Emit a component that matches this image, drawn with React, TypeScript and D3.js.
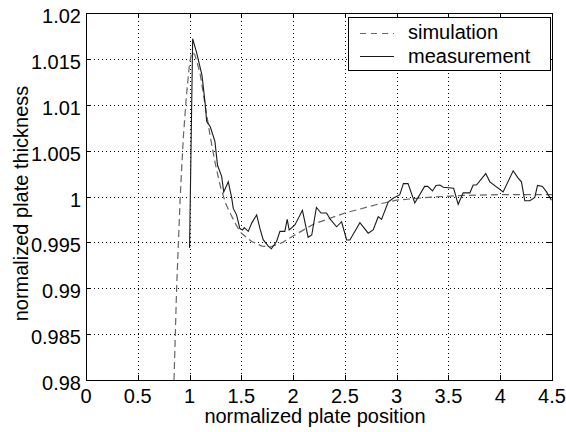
import { useEffect, useRef } from "react";
import * as d3 from "d3";

// axis ticks
const xTicks = [0, 0.5, 1, 1.5, 2, 2.5, 3, 3.5, 4, 4.5];
const xTickLabels = ["0", "0.5", "1", "1.5", "2", "2.5", "3", "3.5", "4", "4.5"];
const yTicks = [0.98, 0.985, 0.99, 0.995, 1, 1.005, 1.01, 1.015, 1.02];
const yTickLabels = ["0.98", "0.985", "0.99", "0.995", "1", "1.005", "1.01", "1.015", "1.02"];

// simulated thickness profile [position, thickness]
const simulation: [number, number][] = [
  [0.85, 0.98], [0.875, 0.99], [0.91, 1.0], [0.94, 1.0065], [0.97, 1.011],
  [1.0, 1.0145], [1.02, 1.0157], [1.05, 1.0155], [1.1, 1.0135], [1.15, 1.01],
  [1.2, 1.0065], [1.25, 1.0035], [1.3, 1.001], [1.35, 0.9992], [1.4, 0.998],
  [1.45, 0.9969], [1.5, 0.996], [1.6, 0.9951], [1.7, 0.9946], [1.78, 0.9945],
  [1.9, 0.995], [2.0, 0.9957], [2.2, 0.997], [2.5, 0.9982], [2.8, 0.9991],
  [3.0, 0.9996], [3.3, 0.9999], [3.6, 1.0001], [4.0, 1.0002], [4.5, 1.0002],
];

// measured thickness profile [position, thickness]
const measurement: [number, number][] = [
  [1.0, 0.9944], [1.03, 1.0172], [1.07, 1.0156], [1.12, 1.0132], [1.15, 1.0102],
  [1.165, 1.0082], [1.2, 1.0076], [1.245, 1.006], [1.27, 1.0034], [1.31, 1.0022],
  [1.33, 1.0005], [1.374, 1.0016], [1.406, 0.9999], [1.422, 0.9987], [1.454, 0.998],
  [1.486, 0.9965], [1.512, 0.99635], [1.528, 0.9966], [1.567, 0.9962], [1.6, 0.9971],
  [1.648, 0.998], [1.68, 0.9965], [1.711, 0.9953], [1.76, 0.9946], [1.79, 0.9943],
  [1.84, 0.9951], [1.873, 0.9962], [1.92, 0.9962], [1.943, 0.9975], [1.962, 0.99635],
  [2.017, 0.9969], [2.09, 0.9985], [2.145, 0.99555], [2.18, 0.9958], [2.225, 0.9988],
  [2.27, 0.9982], [2.323, 0.9982], [2.36, 0.9975], [2.42, 0.9967], [2.468, 0.99725],
  [2.517, 0.99526], [2.548, 0.99526], [2.645, 0.99714], [2.725, 0.996], [2.773, 0.99635],
  [2.822, 0.9978], [2.854, 0.9975], [2.918, 0.9994], [2.966, 0.9998], [3.03, 1.0002],
  [3.065, 1.0014], [3.11, 1.0014], [3.175, 0.9993], [3.27, 1.0011], [3.3, 1.0011],
  [3.346, 1.0006], [3.38, 1.0012], [3.417, 1.00125], [3.45, 1.001], [3.55, 1.0009],
  [3.594, 0.99915], [3.642, 1.0004], [3.707, 1.0004], [3.739, 1.00125], [3.771, 1.00125],
  [3.86, 1.0025], [3.9, 1.0016], [4.028, 1.0005], [4.125, 1.0028], [4.173, 1.002],
  [4.205, 1.0016], [4.237, 0.99954], [4.286, 0.99954], [4.334, 0.9999], [4.36, 1.0012],
  [4.408, 1.0011], [4.447, 1.0005], [4.495, 0.9996],
];

const W = 566;
const H = 432;
const margin = { top: 13, right: 14, bottom: 52, left: 86 };
const font = "'Liberation Sans', Arial, Helvetica, sans-serif";

const App = () => {
  const svgRef = useRef<SVGSVGElement>(null);

  useEffect(() => {
    const svg = d3.select(svgRef.current);
    svg.selectAll("*").remove();

    const x0 = margin.left;
    const x1 = W - margin.right;
    const y0 = H - margin.bottom;
    const y1 = margin.top;

    const xScale = d3.scaleLinear().domain([0, 4.5]).range([x0, x1]);
    const yScale = d3.scaleLinear().domain([0.98, 1.02]).range([y0, y1]);

    svg.append("rect").attr("width", W).attr("height", H).attr("fill", "#fff");

    // grid
    const grid = svg.append("g").attr("stroke", "#000").attr("stroke-width", 1)
      .attr("stroke-dasharray", "1,3");
    xTicks.slice(1, -1).forEach((t) => {
      grid.append("line").attr("x1", Math.round(xScale(t)) + 0.5).attr("x2", Math.round(xScale(t)) + 0.5)
        .attr("y1", y1).attr("y2", y0);
    });
    yTicks.slice(1, -1).forEach((t) => {
      grid.append("line").attr("y1", Math.round(yScale(t)) + 0.5).attr("y2", Math.round(yScale(t)) + 0.5)
        .attr("x1", x0).attr("x2", x1);
    });

    // clip
    svg.append("clipPath").attr("id", "plotClip").append("rect")
      .attr("x", x0).attr("y", y1).attr("width", x1 - x0).attr("height", y0 - y1);

    const line = d3.line<[number, number]>()
      .x((d) => xScale(d[0]))
      .y((d) => yScale(d[1]));

    svg.append("path").datum(simulation).attr("clip-path", "url(#plotClip)")
      .attr("d", line).attr("fill", "none").attr("stroke", "#666")
      .attr("stroke-width", 1.2).attr("stroke-dasharray", "7,4");

    svg.append("path").datum(measurement).attr("clip-path", "url(#plotClip)")
      .attr("d", line).attr("fill", "none").attr("stroke", "#1a1a1a")
      .attr("stroke-width", 1.1);

    // axes box
    svg.append("rect").attr("x", x0 + 0.5).attr("y", y1 + 0.5)
      .attr("width", x1 - x0).attr("height", y0 - y1)
      .attr("fill", "none").attr("stroke", "#000").attr("stroke-width", 1);

    // inner ticks on all four sides
    const ticks = svg.append("g").attr("stroke", "#000").attr("stroke-width", 1);
    xTicks.forEach((t) => {
      const px = Math.round(xScale(t)) + 0.5;
      ticks.append("line").attr("x1", px).attr("x2", px).attr("y1", y0).attr("y2", y0 - 5);
      ticks.append("line").attr("x1", px).attr("x2", px).attr("y1", y1).attr("y2", y1 + 5);
    });
    yTicks.forEach((t) => {
      const py = Math.round(yScale(t)) + 0.5;
      ticks.append("line").attr("y1", py).attr("y2", py).attr("x1", x0).attr("x2", x0 + 5);
      ticks.append("line").attr("y1", py).attr("y2", py).attr("x1", x1).attr("x2", x1 - 5);
    });

    // tick labels
    xTicks.forEach((t, i) => {
      svg.append("text").attr("x", xScale(t)).attr("y", y0 + 23)
        .attr("text-anchor", "middle").attr("font-family", font).attr("font-size", 20)
        .text(xTickLabels[i]);
    });
    yTicks.forEach((t, i) => {
      svg.append("text").attr("x", x0 - 5).attr("y", yScale(t) + 10)
        .attr("text-anchor", "end").attr("font-family", font).attr("font-size", 20)
        .text(yTickLabels[i]);
    });

    // axis titles
    svg.append("text").attr("x", 315).attr("y", 423)
      .attr("text-anchor", "middle").attr("font-family", font).attr("font-size", 20)
      .text("normalized plate position");
    svg.append("text").attr("transform", `translate(28, ${(y0 + y1) / 2 + 7}) rotate(-90)`)
      .attr("text-anchor", "middle").attr("font-family", font).attr("font-size", 20)
      .text("normalized plate thickness");

    // legend
    const lg = svg.append("g");
    lg.append("rect").attr("x", 348.5).attr("y", 17.5).attr("width", 202).attr("height", 53)
      .attr("fill", "#fff").attr("stroke", "#000").attr("stroke-width", 1);
    lg.append("line").attr("x1", 360).attr("x2", 394).attr("y1", 33.5).attr("y2", 33.5)
      .attr("stroke", "#666").attr("stroke-width", 1.2).attr("stroke-dasharray", "6,5");
    lg.append("line").attr("x1", 360).attr("x2", 394).attr("y1", 56.5).attr("y2", 56.5)
      .attr("stroke", "#1a1a1a").attr("stroke-width", 1.1);
    lg.append("text").attr("x", 408).attr("y", 39).attr("font-family", font).attr("font-size", 20)
      .text("simulation");
    lg.append("text").attr("x", 408).attr("y", 63).attr("font-family", font).attr("font-size", 20)
      .text("measurement");
  }, []);

  return (
    <svg
      ref={svgRef}
      width={W}
      height={H}
      viewBox={`0 0 ${W} ${H}`}
      style={{ position: "absolute", left: 0, top: 0 }}
    ></svg>
  );
};

export default App;
